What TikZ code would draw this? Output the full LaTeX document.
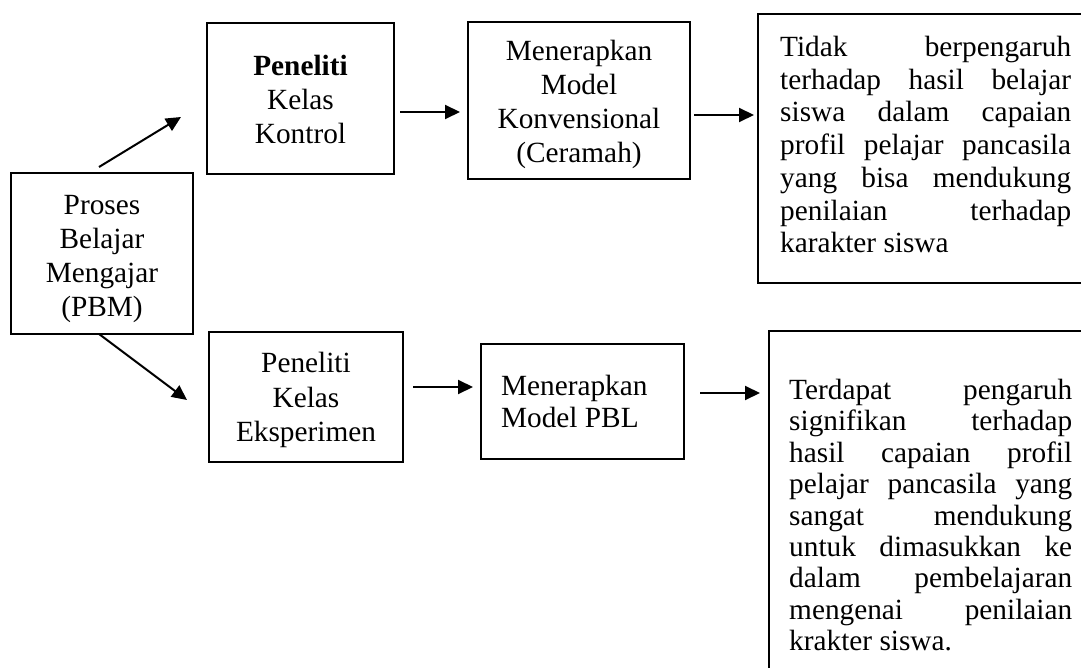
\documentclass[tikz,border=0pt]{standalone}
\usepackage{fontspec}
\setmainfont{Liberation Serif}
\usetikzlibrary{arrows.meta}
\newcommand{\tnr}{\fontsize{29.3}{34.2}\selectfont}
\newcommand{\tnrt}{\fontsize{29.3}{32.7}\selectfont}
\newcommand{\tnrb}{\fontsize{29.3}{31.4}\selectfont}
\tikzset{
  box/.style={draw, line width=2.2pt, inner sep=0pt},
  txt/.style={inner sep=0pt, align=center, font=\tnr},
  plainbox/.style={draw, line width=2.2pt, inner sep=0pt, anchor=north west},
  arr/.style={line width=2pt, -{Triangle[length=15pt,width=14pt]}},
  bodytext/.style={inner sep=0pt, anchor=north west, align=left}
}
\begin{document}
\begin{tikzpicture}[x=1pt,y=-1pt]
\useasboundingbox (0,0) rectangle (1081,668);
\clip (0,0) rectangle (1081,668);
% boxes
\node[box, minimum width=182pt, minimum height=161pt] (pbm) at (102,253.5) {};
\node[txt, yshift=-5.5pt] (pbmtext) at (pbm.center) {Proses\\Belajar\\Mengajar\\(PBM)};
\node[box, minimum width=187pt, minimum height=151pt] (kontrol) at (300.5,98.5) {};
\node[txt, yshift=-1pt] (kontroltext) at (kontrol.center) {\textbf{Peneliti}\\Kelas\\Kontrol};
\node[box, minimum width=222pt, minimum height=157pt] (konv) at (579,100.5) {};
\node[txt, yshift=-4pt] (konvtext) at (konv.center) {Menerapkan\\Model\\Konvensional\\(Ceramah)};
\node[box, minimum width=194pt, minimum height=130pt] (eksp) at (306,397) {};
\node[txt, yshift=-3pt] (eksptext) at (eksp.center) {Peneliti\\Kelas\\Eksperimen};
\node[box, minimum width=203pt, minimum height=115pt] (pbl) at (582.5,401.5) {};
\node[txt, align=left, font=\tnrb, anchor=west] (pbltext) at ([xshift=21pt]pbl.west) {Menerapkan\\Model PBL};
% right boxes
\node[plainbox, minimum width=340pt, minimum height=269pt] (tidakbox) at (757,13) {};
\node[bodytext, font=\tnrt] (tidak) at (780,36) {%
\makebox[291pt][s]{Tidak berpengaruh}\\
\makebox[291pt][s]{terhadap hasil belajar}\\
\makebox[291pt][s]{siswa dalam capaian}\\
\makebox[291pt][s]{profil pelajar pancasila}\\
\makebox[291pt][s]{yang bisa mendukung}\\
\makebox[291pt][s]{penilaian terhadap}\\
karakter siswa};
\node[plainbox, minimum width=340pt, minimum height=360pt] (terdapatbox) at (768,330) {};
\node[bodytext, font=\tnrb] (terdapat) at (789,379) {%
\makebox[283pt][s]{Terdapat pengaruh}\\
\makebox[283pt][s]{signifikan terhadap}\\
\makebox[283pt][s]{hasil capaian profil}\\
\makebox[283pt][s]{pelajar pancasila yang}\\
\makebox[283pt][s]{sangat mendukung}\\
\makebox[283pt][s]{untuk dimasukkan ke}\\
\makebox[283pt][s]{dalam pembelajaran}\\
\makebox[283pt][s]{mengenai penilaian}\\
krakter siswa.};
% connector end points
\coordinate (a1s) at (99,167);  \coordinate (a1e) at (181,117);
\coordinate (a2s) at (99,334);  \coordinate (a2e) at (187,400);
\coordinate (a3s) at (400,112); \coordinate (a3e) at (460,112);
\coordinate (a4s) at (694,115); \coordinate (a4e) at (754,115);
\coordinate (a5s) at (413,387); \coordinate (a5e) at (473,387);
\coordinate (a6s) at (700,393); \coordinate (a6e) at (760,393);
\draw[arr] (a1s) -- (a1e);
\draw[arr] (a2s) -- (a2e);
\draw[arr] (a3s) -- (a3e);
\draw[arr] (a4s) -- (a4e);
\draw[arr] (a5s) -- (a5e);
\draw[arr] (a6s) -- (a6e);
\end{tikzpicture}
\end{document}
